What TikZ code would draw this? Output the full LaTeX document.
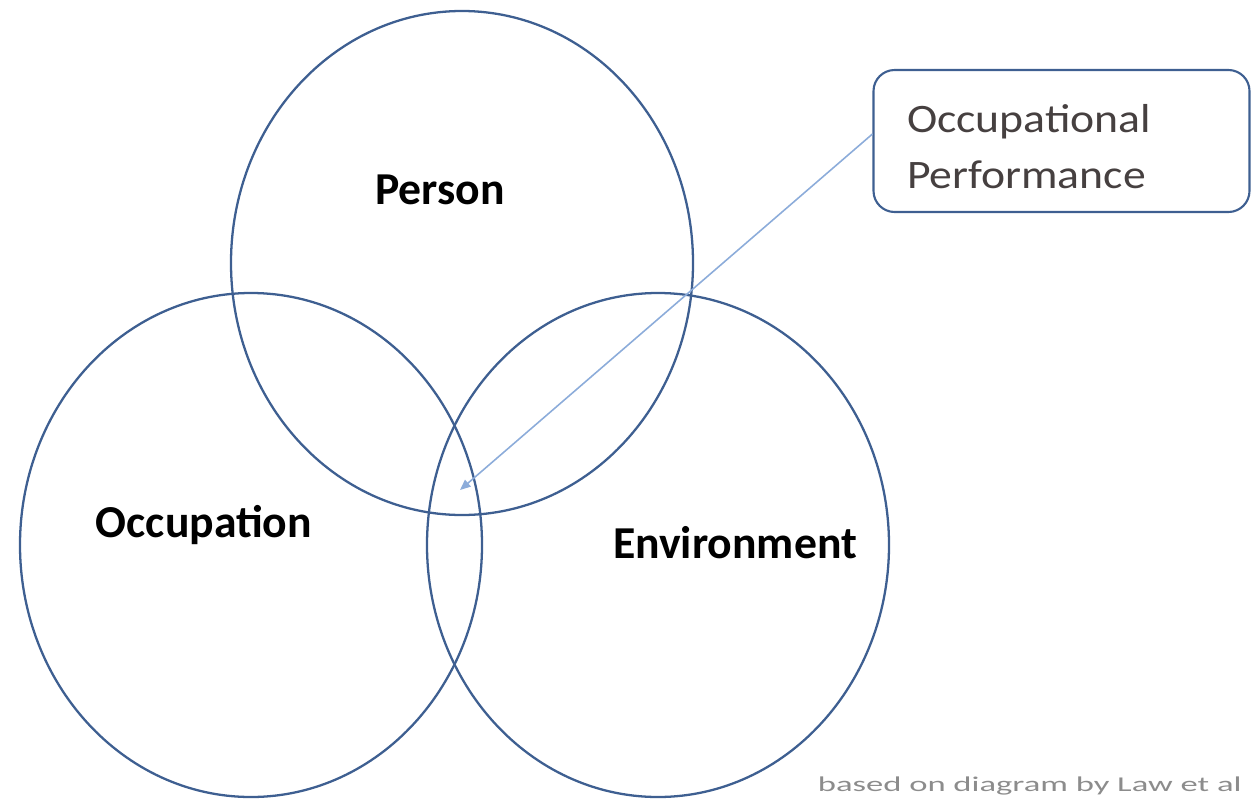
\documentclass[tikz,border=0pt]{standalone}
\usepackage{fontspec}
\setmainfont{Carlito}
\usetikzlibrary{shapes.geometric, arrows.meta, positioning}
\definecolor{ringblue}{RGB}{62, 95, 145}
\definecolor{linkblue}{RGB}{140, 172, 218}
\definecolor{notegray}{RGB}{140, 140, 140}
\definecolor{boxtext}{RGB}{70, 64, 64}
\newcommand{\wide}[1]{\scalebox{1.13}[1]{#1}}

\begin{document}
\begin{tikzpicture}[x=0.2mm, y=-0.2mm,
  ring/.style={draw=ringblue, line width=1.3pt, ellipse, inner sep=0pt, minimum width=92.4mm, minimum height=100.8mm},
  lbl/.style={font=\fontsize{26}{30}\selectfont\bfseries, text=black},
  link/.style={draw=linkblue, line width=0.9pt, -{Triangle[length=6pt, width=5pt]}}]
  \useasboundingbox (0,0) rectangle (1253,802);
  % Rings
  \node[ring] (person) at (462,263) {};
  \node[ring] (occupation) at (251,545) {};
  \node[ring] (environment) at (658,545) {};
  % Labels
  \node[lbl] (personlbl) at (440,190) {Person};
  \node[lbl] (occlbl) at (204,525) {Occupation};
  \node[lbl] (envlbl) at (735,543) {Environment};
  % Call-out box
  \node[draw=ringblue, line width=1.2pt, rounded corners=12pt, minimum width=75.2mm, minimum height=28.4mm, text width=61.8mm, align=left, font=\fontsize{23}{32}\selectfont, text=boxtext] (perf) at (1061.5,141) {\rule{0pt}{22pt}\wide{Occupational}\\\wide{Performance}};
  \coordinate (op) at (460,490);
  \draw[link] ([yshift=1.4mm]perf.west) -- (op);
  % Source note
  \node[text=notegray, font=\fontsize{12}{14}\selectfont, anchor=south east, inner sep=0pt] (note) at (1242,795) {\scalebox{1.64}[1]{based on diagram by Law et al}};
\end{tikzpicture}
\end{document}
